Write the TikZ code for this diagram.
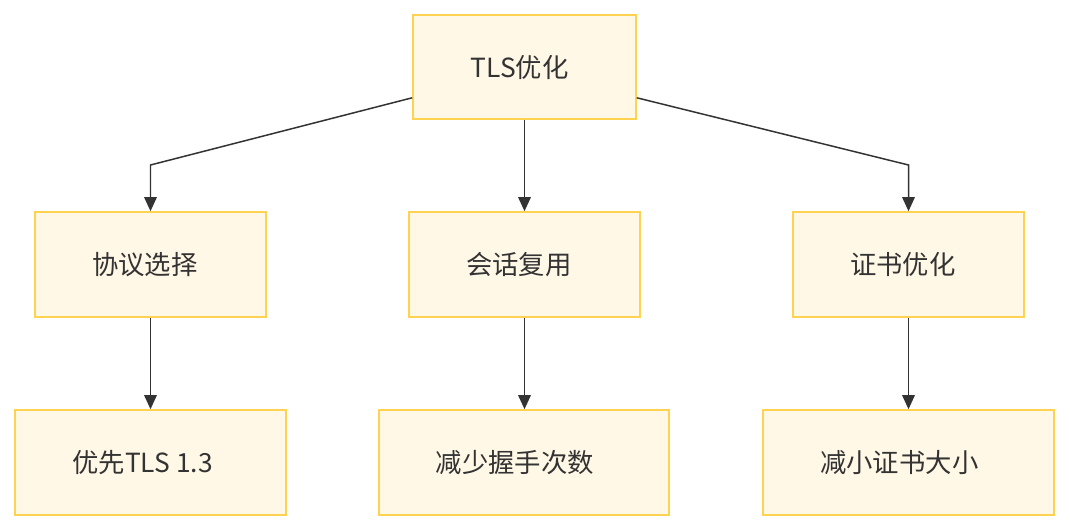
\documentclass[tikz,border=0pt]{standalone}
\usepackage{fontspec}
\setmainfont{Noto Sans CJK SC}
\usetikzlibrary{arrows.meta,positioning,calc}
\definecolor{nfill}{HTML}{FFF8E6}
\definecolor{nline}{HTML}{FFD24F}
\definecolor{ntext}{HTML}{333333}
\definecolor{eline}{HTML}{333333}
\newcommand{\padr}[1]{\hspace*{#1}}
\begin{document}
\begin{tikzpicture}[
  x=0.02cm, y=-0.02cm,
  box/.style={draw=nline, fill=nfill, line width=0.9pt, minimum height=2.1cm, align=center, text=ntext, font=\fontsize{15}{18}\selectfont, inner sep=0pt},
  arr/.style={-{Triangle[length=2.8mm,width=2.5mm]}, line width=0.85pt, eline},
]
  \useasboundingbox (0,0) rectangle (1070,530);

  % Top
  \node[box, minimum width=4.46cm, minimum height=2.08cm] (root) at (524.5, 67) {TLS优化\padr{5.5pt}};

  % Middle row
  \node[box, minimum width=4.62cm] (proto) at (150.5, 264.5) {协议选择\padr{6.5pt}};
  \node[box, minimum width=4.62cm] (sess) at (524.5, 264.5) {会话复用\padr{6.5pt}};
  \node[box, minimum width=4.62cm] (cert) at (908.5, 264.5) {证书优化\padr{6.5pt}};

  % Bottom row
  \node[box, minimum width=5.42cm] (tls13) at (150.5, 462.5) {优先TLS 1.3\padr{9pt}};
  \node[box, minimum width=5.8cm] (hands) at (524, 462.5) {减少握手次数\padr{10.5pt}};
  \node[box, minimum width=5.82cm] (csize) at (908.5, 462.5) {减小证书大小\padr{10.5pt}};

  \coordinate (lbend) at (150.5, 165);
  \coordinate (rbend) at (908.5, 165);

  \draw[arr] ([yshift=0.44cm]root.south west) -- (lbend) -- (proto.north);
  \draw[arr] (root) -- (sess);
  \draw[arr] ([yshift=0.44cm]root.south east) -- (rbend) -- (cert.north);
  \draw[arr] (proto) -- (tls13);
  \draw[arr] (sess) -- (sess |- hands.north);
  \draw[arr] (cert) -- (csize);
\end{tikzpicture}
\end{document}
